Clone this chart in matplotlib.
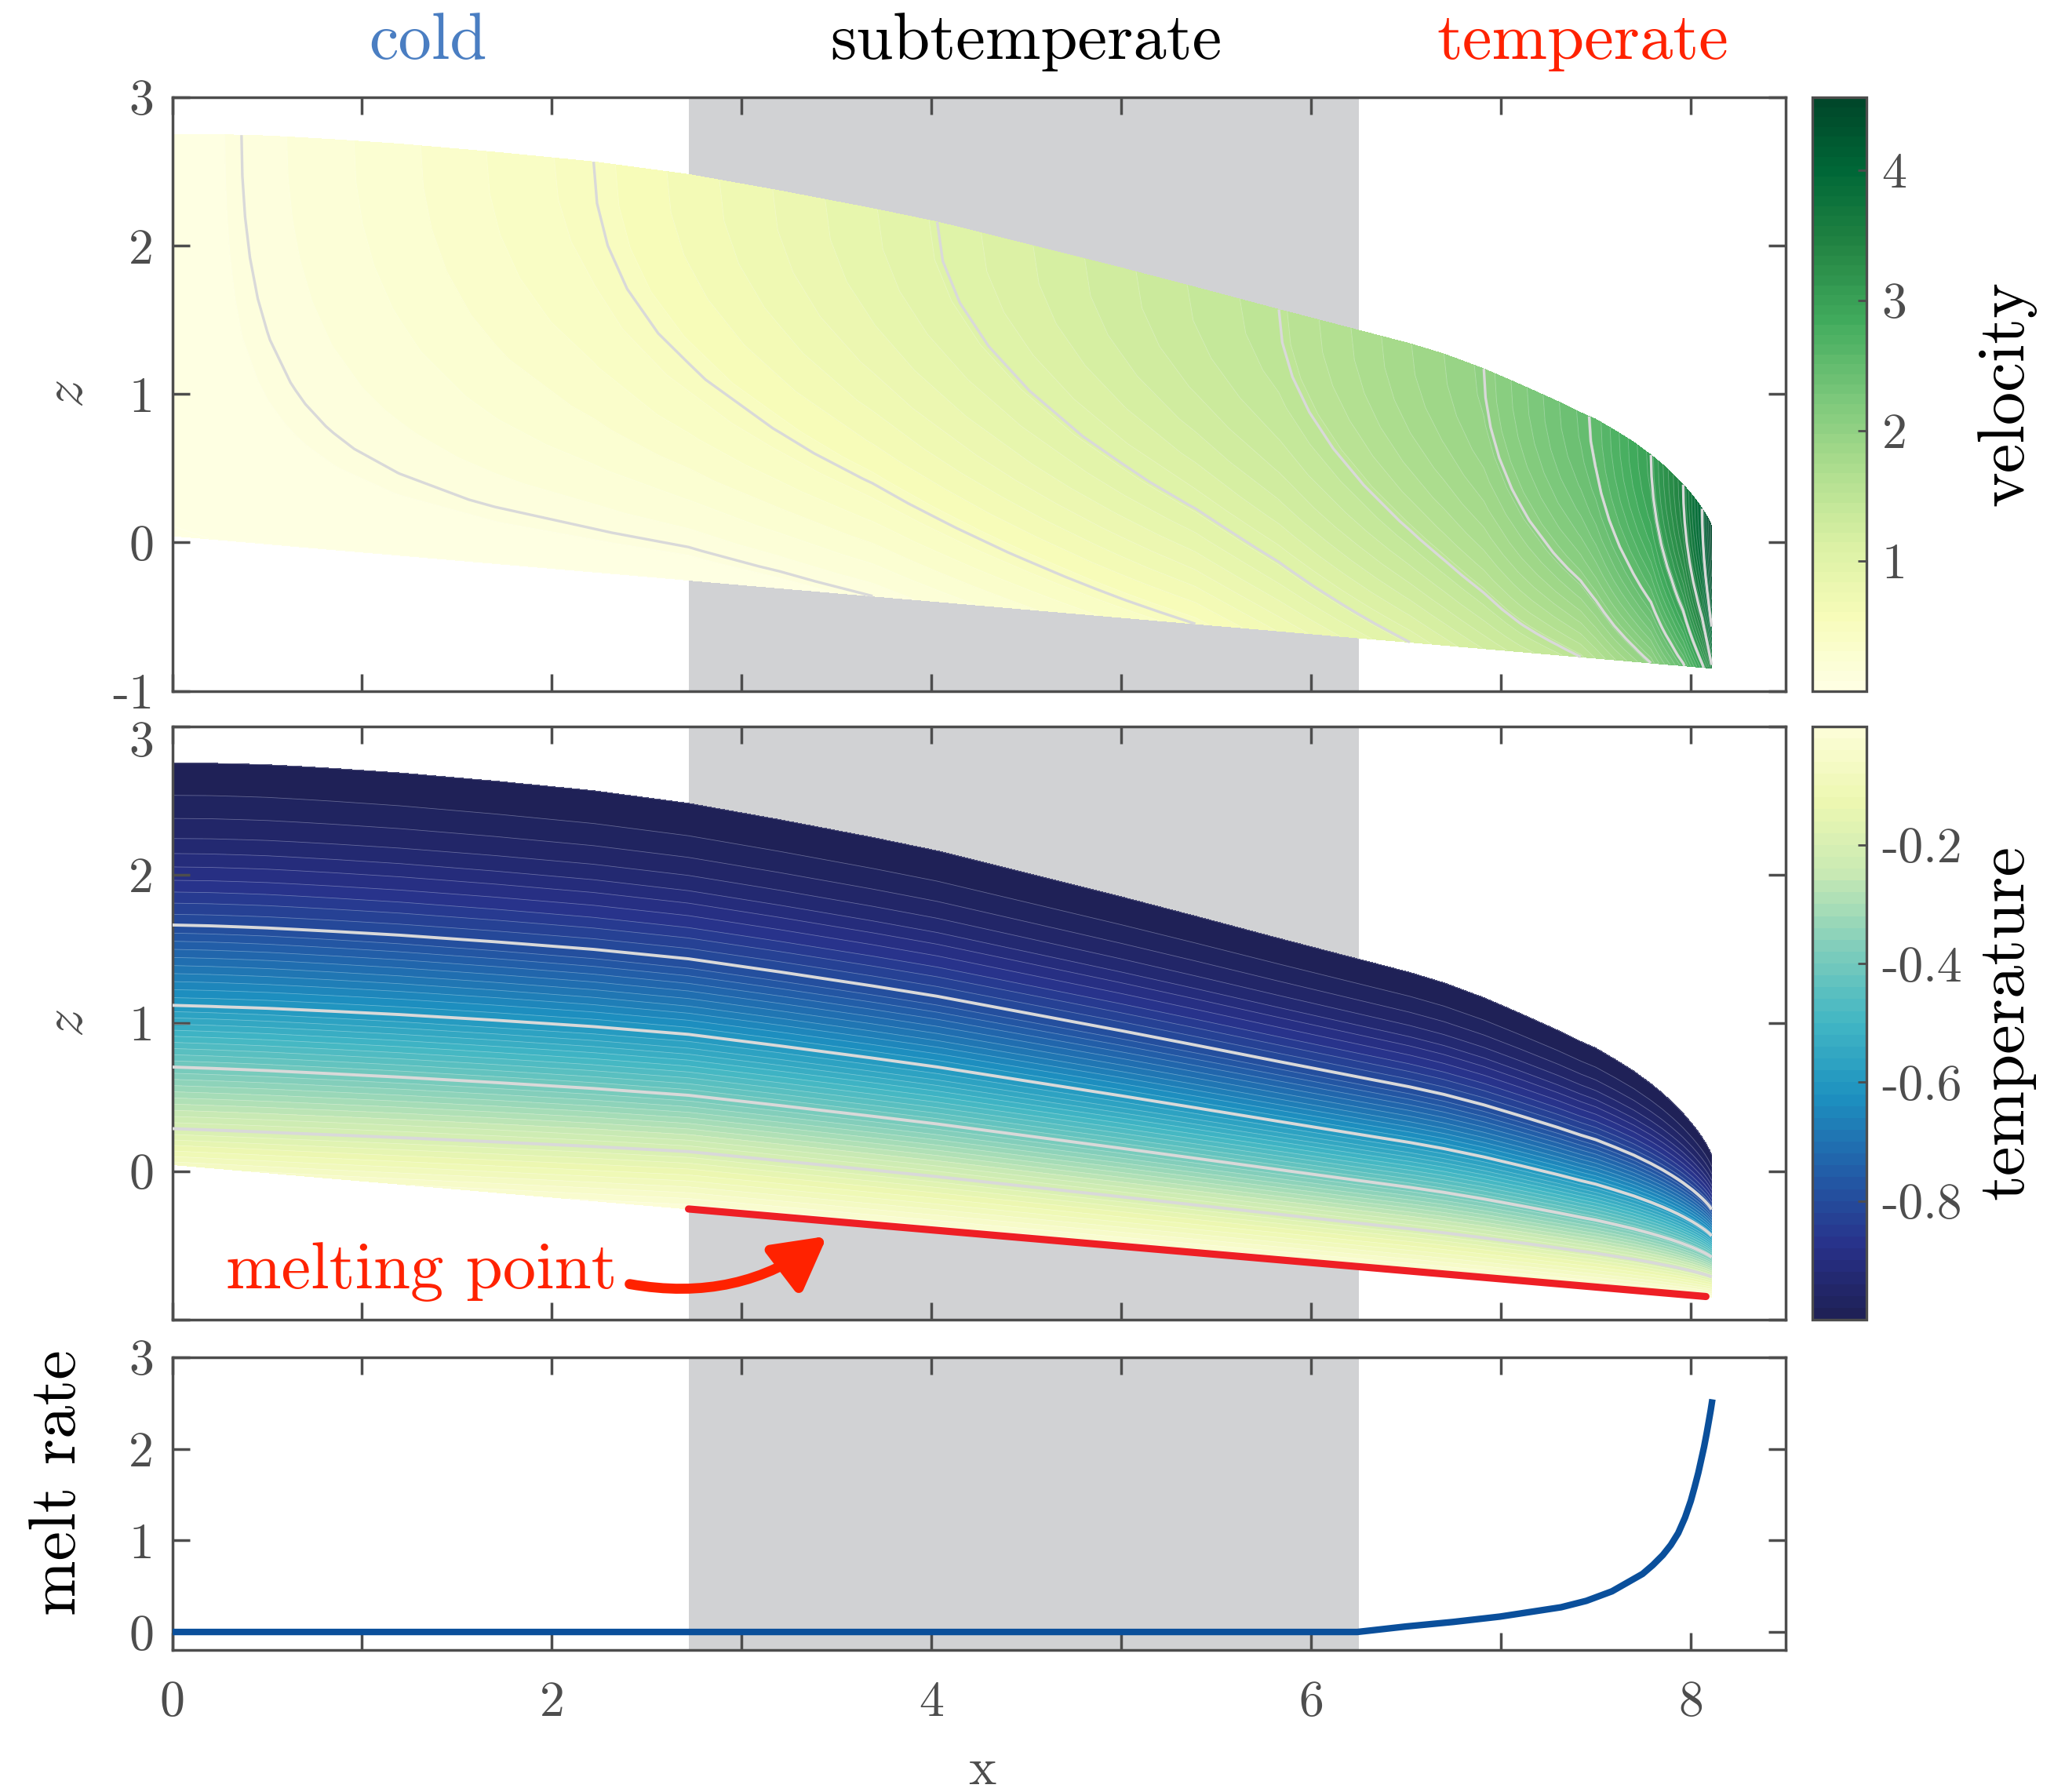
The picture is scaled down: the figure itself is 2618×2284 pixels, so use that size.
import numpy as np
import matplotlib
matplotlib.use("Agg")
import matplotlib.pyplot as plt
from matplotlib.ticker import FixedLocator, FuncFormatter
from matplotlib.patches import FancyArrowPatch
from matplotlib.colors import LinearSegmentedColormap

plt.rcParams.update({
    "font.family": "serif",
    "font.serif": ["cmr10"],
    "mathtext.fontset": "cm",
    "axes.unicode_minus": False,
})

# flowline columns
x_col = np.array([0, 0.2, 0.365, 0.5, 0.65, 0.85, 1.2, 1.7, 2.22, 2.72, 3.2, 3.69, 4.03, 4.5,
                  5.0, 5.39, 5.83, 6.25, 6.52, 6.7, 6.91, 7.1, 7.3, 7.42, 7.5, 7.6, 7.7, 7.79,
                  7.85, 7.9, 7.93, 7.96, 8.01, 8.035, 8.06, 8.075, 8.09, 8.1, 8.11])
surface = np.array([2.75, 2.75, 2.745, 2.74, 2.73, 2.715, 2.685, 2.63, 2.565, 2.48, 2.37, 2.25,
                    2.16, 2.01, 1.85, 1.72, 1.57, 1.43, 1.34, 1.27, 1.17, 1.065, 0.95, 0.875,
                    0.83, 0.755, 0.675, 0.59, 0.527, 0.468, 0.43, 0.39, 0.315, 0.273, 0.228,
                    0.198, 0.165, 0.14, 0.11])
bed = np.array([0.045, 0.023, 0.005, -0.01, -0.027, -0.049, -0.087, -0.142, -0.199, -0.254,
                -0.307, -0.361, -0.398, -0.45, -0.505, -0.548, -0.596, -0.643, -0.672, -0.692,
                -0.715, -0.736, -0.758, -0.771, -0.78, -0.791, -0.802, -0.812, -0.819, -0.824,
                -0.827, -0.831, -0.836, -0.839, -0.842, -0.843, -0.845, -0.846, -0.847])
u_surf = np.array([0, 0.055, 0.1, 0.13, 0.162, 0.205, 0.28, 0.39, 0.5, 0.64, 0.77, 0.905, 1.0,
                   1.13, 1.27, 1.38, 1.5, 1.69, 1.82, 1.9, 2.0, 2.17, 2.35, 2.45, 2.54, 2.7,
                   2.86, 3.0, 3.18, 3.32, 3.41, 3.5, 3.75, 3.87, 4.0, 4.15, 4.3, 4.42, 4.55])
u_base = np.array([0, 0, 0, 0, 0, 0, 0, 0, 0, 0, 0.04, 0.1, 0.18, 0.29, 0.41, 0.5, 0.69, 0.88,
                   1.0, 1.1, 1.22, 1.33, 1.43, 1.5, 1.6, 1.74, 1.87, 2.0, 2.17, 2.3, 2.39, 2.47,
                   2.7, 2.82, 2.95, 3.05, 3.2, 3.32, 3.45])
cold_weight = np.array([1, 0.926, 0.866, 0.816, 0.761, 0.6875, 0.559, 0.375, 0.184, 0, 0, 0,
                        0, 0, 0, 0, 0, 0, 0, 0, 0, 0, 0, 0, 0, 0, 0, 0, 0, 0, 0, 0, 0, 0, 0,
                        0, 0, 0, 0])

# vertical position as fraction of ice thickness
zeta = np.array([0, 0.025, 0.05, 0.075, 0.1, 0.15, 0.2, 0.25, 0.3, 0.35, 0.4, 0.5, 0.6, 0.7,
                 0.8, 0.9, 1.0])
shear = np.array([0, 0.049, 0.0975, 0.144, 0.19, 0.278, 0.36, 0.438, 0.51, 0.578, 0.64, 0.75,
                  0.84, 0.91, 0.96, 0.99, 1.0])
temp_cold = np.array([-0.07, -0.107, -0.143, -0.18, -0.214, -0.279, -0.344, -0.409, -0.474,
                      -0.54, -0.604, -0.704, -0.803, -0.875, -0.935, -0.975, -1.0])
temp_warm = np.array([-0.005, -0.039, -0.074, -0.108, -0.142, -0.212, -0.284, -0.357, -0.428,
                      -0.497, -0.565, -0.68, -0.787, -0.865, -0.93, -0.975, -1.0])

u_lines = [0.1, 0.5, 1.0, 1.5, 2.0, 2.5, 3.0, 3.5, 4.0]
t_lines = [-0.8, -0.6, -0.4, -0.2]

sub_start, sub_end = 2.72, 6.25

melt_x = [0, 6.243, 6.5, 6.75, 6.995, 7.317, 7.45, 7.585, 7.746, 7.8, 7.853, 7.895, 7.934,
          7.97, 8.0, 8.02, 8.04, 8.055, 8.07, 8.083, 8.095, 8.105, 8.114]
melt = [0, 0, 0.06, 0.11, 0.168, 0.27, 0.34, 0.444, 0.634, 0.73, 0.84, 0.95, 1.08, 1.25,
        1.43, 1.58, 1.74, 1.88, 2.02, 2.16, 2.30, 2.42, 2.54]

mp_x = [2.72, 8.08]
mp_z = [-0.254, -0.844]

# mesh between bed and surface
X = np.repeat(x_col[:, None], len(zeta), axis=1)
Z = bed[:, None] + zeta[None, :] * (surface - bed)[:, None]
U = u_base[:, None] + (u_surf - u_base)[:, None] * shear[None, :]
T = cold_weight[:, None] * temp_cold[None, :] + (1 - cold_weight)[:, None] * temp_warm[None, :]

temp_cmap = LinearSegmentedColormap.from_list(
    "temp", ["#1e2054", "#28318a", "#225ea8", "#1d91c0", "#41b6c4", "#7fcdbb", "#c7e9b4",
             "#edf8b1", "#fdfdd8"])

W, H = 2618, 2284
fig = plt.figure(figsize=(W / 200, H / 200), dpi=200)


def box(l, t, r, b):
    return [l / W, 1 - b / H, (r - l) / W, (b - t) / H]


ax1 = fig.add_axes(box(219.5, 124, 2276, 880.6))
ax2 = fig.add_axes(box(219.5, 925.5, 2276, 1682))
ax3 = fig.add_axes(box(219.5, 1729.8, 2276, 2103.4))
cax1 = fig.add_axes(box(2310, 124, 2379, 880.6))
cax2 = fig.add_axes(box(2310, 925.5, 2379, 1682))

grey = "#4D4D4D"
for ax in (ax1, ax2, ax3):
    ax.axvspan(sub_start, sub_end, color="#D1D2D4", lw=0, zorder=0)
    ax.set_xlim(0, 8.5)
    ax.xaxis.set_major_locator(FixedLocator(range(9)))
    for s in ax.spines.values():
        s.set_color(grey)
        s.set_linewidth(1.25)
    ax.tick_params(direction="in", length=7.8, width=1.25, color=grey, labelcolor=grey,
                   labelsize=23, top=True, right=True)
    ax.tick_params(axis="y", pad=8.5)
    ax.tick_params(axis="x", pad=14)

# velocity
u_lev = np.linspace(0, 4.56, 61)
cf1 = ax1.contourf(X, Z, U, levels=u_lev, cmap="YlGn", zorder=1)
ax1.contour(X, Z, U, levels=u_lev, colors="white", linewidths=0.3, alpha=0.3, zorder=2)
ax1.contour(X, Z, U, levels=u_lines, colors="#D9D9D9", linewidths=1.2,
            linestyles="solid", zorder=3)
ax1.set_ylim(-1, 3)
ax1.set_yticks([-1, 0, 1, 2, 3])
ax1.yaxis.set_major_formatter(FuncFormatter(lambda v, p: "%g" % v))
ax1.tick_params(labelbottom=False)

# temperature
t_lev = np.linspace(-1, 0, 51)
cf2 = ax2.contourf(X, Z, T, levels=t_lev, cmap=temp_cmap, zorder=1)
ax2.contour(X, Z, T, levels=t_lev, colors="white", linewidths=0.3, alpha=0.3,
            linestyles="solid", zorder=2)
ax2.contour(X, Z, T, levels=t_lines, colors="#D9D9D9", linewidths=1.4,
            linestyles="solid", zorder=3)
ax2.plot(mp_x, mp_z, color="#EE1F25", lw=3.3, solid_capstyle="round", zorder=5)
ax2.set_ylim(-1, 3)
ax2.set_yticks([-1, 0, 1, 2, 3])
ax2.yaxis.set_major_formatter(FuncFormatter(lambda v, p: "%g" % v if 0 <= v < 3 else ""))
ax2.text(-0.0115, 2.88, "3", transform=ax2.get_yaxis_transform(), ha="right", va="center",
         fontsize=23, color=grey)
ax2.tick_params(labelbottom=False)
ax2.text(2.344, -0.787, "melting point", ha="right", va="baseline", fontsize=30.5,
         color="#FF2200", zorder=6)
arrow = FancyArrowPatch((2.41, -0.76), (3.45, -0.437), connectionstyle="arc3,rad=0.22",
                        arrowstyle="-|>,head_length=20,head_width=11", mutation_scale=1,
                        color="#FF2200", lw=4.6, shrinkA=0, shrinkB=0, zorder=6)
ax2.add_patch(arrow)

# melt rate
ax3.plot(melt_x, melt, color="#0A4F9B", lw=3, solid_capstyle="butt", zorder=3)
ax3.set_ylim(-0.2, 3)
ax3.set_yticks([0, 1, 2, 3])
ax3.yaxis.set_major_formatter(FuncFormatter(lambda v, p: "%g" % v))
ax3.xaxis.set_major_formatter(FuncFormatter(lambda v, p: "%d" % v if int(round(v)) % 2 == 0 else ""))

# colorbars
cb1 = fig.colorbar(cf1, cax=cax1, ticks=[1, 2, 3, 4])
cb2 = fig.colorbar(cf2, cax=cax2, ticks=[-0.8, -0.6, -0.4, -0.2])
for cb in (cb1, cb2):
    cb.outline.set_edgecolor(grey)
    cb.outline.set_linewidth(1.2)
    cb.ax.tick_params(direction="in", length=4, width=1, color=grey, labelcolor=grey,
                      labelsize=23, pad=7)
    cb.ax.yaxis.set_major_formatter(FuncFormatter(lambda v, p: "%g" % v))

# labels
fig.text(87 / W, 1 - 502 / H, "$z$", rotation=90, ha="center", va="center", fontsize=26,
         color=grey)
fig.text(87 / W, 1 - 1304 / H, "$z$", rotation=90, ha="center", va="center", fontsize=26,
         color=grey)
fig.text(75 / W, 1 - 1890 / H, "melt rate", rotation=90, ha="center", va="center",
         fontsize=30.5)
fig.text(2557 / W, 1 - 502 / H, "velocity", rotation=90, ha="center", va="center",
         fontsize=30.5)
fig.text(2557 / W, 1 - 1303 / H, "temperature", rotation=90, ha="center", va="center",
         fontsize=30.5)
fig.text(1252 / W, 1 - 2257 / H, "x", ha="center", va="center", fontsize=24, color=grey)

fig.text(545 / W, 1 - 75 / H, "cold", ha="center", va="baseline", fontsize=30.5,
         color="#4A7EC2")
fig.text(1307.5 / W, 1 - 75 / H, "subtemperate", ha="center", va="baseline", fontsize=30.5,
         color="black")
fig.text(2017 / W, 1 - 75 / H, "temperate", ha="center", va="baseline", fontsize=30.5,
         color="#FF2200")

fig.savefig("out.png", dpi=200)
